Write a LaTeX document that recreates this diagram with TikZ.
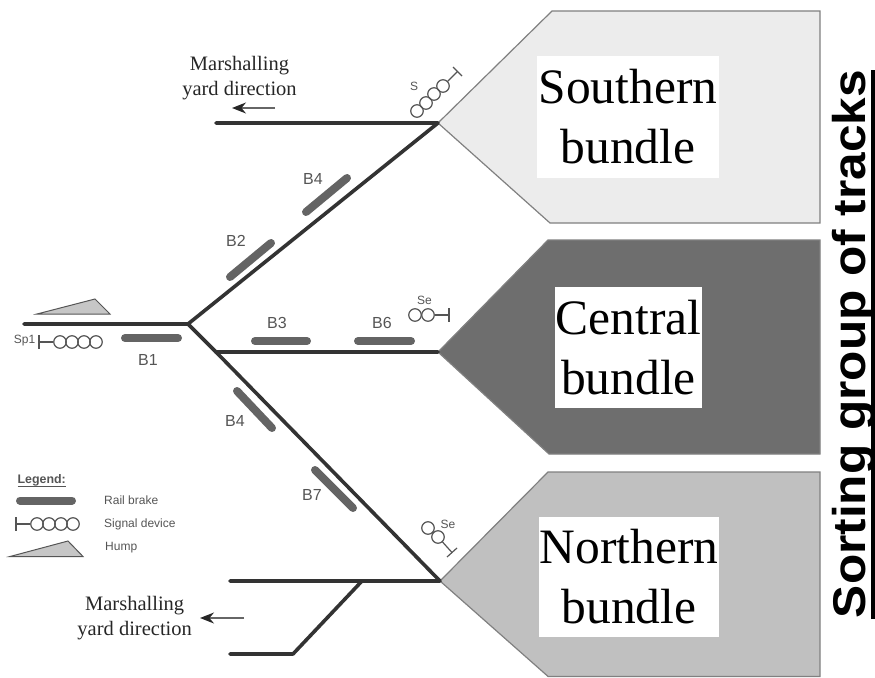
\documentclass[tikz,border=0pt]{standalone}
\usepackage{fontspec}
\setmainfont{Liberation Serif}
\newfontfamily\arialf{Liberation Sans}
\usetikzlibrary{arrows.meta}
\definecolor{edgeg}{HTML}{808080}
\definecolor{trackc}{HTML}{333333}
\definecolor{brakec}{HTML}{646464}
\definecolor{labelc}{HTML}{555555}
\tikzset{
  bundle/.style={draw=edgeg,line width=1.2pt,line join=miter},
  titlebox/.style={fill=white,inner sep=0pt,align=center,font=\fontsize{49.5}{60}\selectfont,text=black},
  track/.style={draw=trackc,line width=3.6pt,line cap=round,line join=round},
  brake/.style={draw=brakec,line width=8pt,line cap=round},
  tag/.style={font=\arialf\fontsize{16}{18}\selectfont,text=labelc,inner sep=0pt},
  smalltag/.style={font=\arialf\fontsize{12}{14}\selectfont,text=labelc,inner sep=0pt},
  lamp/.style={circle,draw=labelc,line width=1.2pt,minimum size=12.5pt,inner sep=0pt},
  sigline/.style={draw=labelc,line width=1.2pt},
  humpshape/.style={draw=labelc,fill=gray!45,line width=1pt,line join=miter},
  serifnote/.style={font=\fontsize{20.5}{24.5}\selectfont,align=center,inner sep=0pt,text=black!85},
  dirarrow/.style={draw=black!60,line width=1.5pt,-{Stealth[length=14pt,width=11pt,color=black!85]}}
}
\begin{document}
\begin{tikzpicture}[x=1pt,y=-1pt]
\useasboundingbox (0,0) rectangle (875,677);
% bundles
\filldraw[bundle,fill={rgb,255:red,236;green,236;blue,236}] (438,123) coordinate (sTip) -- (552,11) -- (820,11) -- (820,223) -- (550,223) -- cycle;
\filldraw[bundle,fill={rgb,255:red,110;green,110;blue,110}] (438,352) coordinate (cTip) -- (548,240) -- (820,240) -- (820,454) -- (549,454) -- cycle;
\filldraw[bundle,fill={rgb,255:red,192;green,192;blue,192}] (440,581) coordinate (nTip) -- (548,472) -- (820,472) -- (820,676.4) -- (548,676.4) -- cycle;
\node[titlebox,minimum width=182pt,minimum height=122pt] (southB) at (628,117) {Southern\\bundle};
\node[titlebox,minimum width=147pt,minimum height=121pt] (centralB) at (628.5,347.5) {Central\\bundle};
\node[titlebox,minimum width=180pt,minimum height=120pt] (northB) at (629,577) {Northern\\bundle};
% vertical title
\node[rotate=90,xscale=.918,yscale=.85,inner sep=0pt,anchor=base,font=\arialf\bfseries\fontsize{54}{60}\selectfont] (sideT) at (865,344) {Sorting group of tracks};
\coordinate (ulA) at (873,619);
\coordinate (ulB) at (873,70);
\draw[black,line width=3.5pt] (ulA) -- (ulB);
% tracks
\coordinate (startA) at (24,324);
\coordinate (jn) at (188,324);
\coordinate (jnLow) at (216,352);
\coordinate (yardTop) at (216,123);
\coordinate (yardLowA) at (230,581);
\coordinate (branch) at (362,581);
\coordinate (bend) at (293,654);
\coordinate (yardLowB) at (230,654);
\draw[track] (startA) -- (jn) -- (sTip) -- (yardTop);
\draw[track] (jn) -- (jnLow) -- (cTip);
\draw[track] (jnLow) -- (nTip) -- (yardLowA);
\draw[track] (branch) -- (bend) -- (yardLowB);
% brakes
\coordinate (b1a) at (125,338); \coordinate (b1b) at (178,338);
\coordinate (b4a) at (306,212); \coordinate (b4b) at (347,178);
\coordinate (b2a) at (230,277); \coordinate (b2b) at (271,243);
\coordinate (b3a) at (255,341); \coordinate (b3b) at (307,341);
\coordinate (b6a) at (358,341); \coordinate (b6b) at (411,341);
\coordinate (b5a) at (237,391); \coordinate (b5b) at (272,428);
\coordinate (b7a) at (315,470); \coordinate (b7b) at (353,508);
\foreach \p/\q in {b1a/b1b,b4a/b4b,b2a/b2b,b3a/b3b,b6a/b6b,b5a/b5b,b7a/b7b}
  \draw[brake] (\p) -- (\q);
\node[tag] (lb1) at (148,360) {B1};
\node[tag] (lb4) at (313,179) {B4};
\node[tag] (lb2) at (236,241) {B2};
\node[tag] (lb3) at (277,322.5) {B3};
\node[tag] (lb6) at (382,322.5) {B6};
\node[tag] (lb4b) at (235,421) {B4};
\node[tag] (lb7) at (312,495) {B7};
% hump
\filldraw[humpshape] (37,314) -- (95,299) -- (110,314) -- cycle;
% signal Sp1
\node[smalltag] (sp) at (24.5,341) {Sp1};
\node[lamp] (s1) at (60,342) {};
\node[lamp] (s2) at (72,342) {};
\node[lamp] (s3) at (84,342) {};
\node[lamp] (s4) at (96,342) {};
\coordinate (spT) at (39,342);
\draw[sigline] (39,335) -- (39,349);
\draw[sigline] (spT) -- (s1);
% signal S
\node[smalltag] (sS) at (414,86) {S};
\node[lamp] (u1) at (417,111) {};
\node[lamp] (u2) at (426,103) {};
\node[lamp] (u3) at (434,94) {};
\node[lamp] (u4) at (443,86) {};
\coordinate (uT) at (457.5,71.5);
\draw[sigline] (453,67) -- (462,76);
\draw[sigline] (u4) -- (uT);
% signal Se centre
\node[smalltag] (sC) at (424.5,300) {Se};
\node[lamp] (c1) at (415,315) {};
\node[lamp] (c2) at (428,315) {};
\coordinate (cT) at (449,315);
\draw[sigline] (449,308) -- (449,322);
\draw[sigline] (c2) -- (cT);
% signal Se north
\node[smalltag] (sN) at (448,524) {Se};
\node[lamp] (n1) at (428,528) {};
\node[lamp] (n2) at (438,537) {};
\coordinate (nT) at (452,552.5);
\draw[sigline] (447,557) -- (457,548);
\draw[sigline] (n2) -- (nT);
% direction notes
\node[serifnote] (mTop) at (239.5,78) {Marshalling\\yard direction};
\coordinate (aTopA) at (275,108); \coordinate (aTopB) at (232,108);
\draw[dirarrow] (aTopA) -- (aTopB);
\node[serifnote] (mLow) at (134.7,618) {Marshalling\\yard direction};
\coordinate (aLowA) at (244,618); \coordinate (aLowB) at (200,618);
\draw[dirarrow] (aLowA) -- (aLowB);
% legend
\node[font=\arialf\bfseries\fontsize{12.4}{14}\selectfont,text=labelc,inner sep=0pt] (lgT) at (41.7,480) {Legend:};
\coordinate (lgUa) at (17.5,486.5); \coordinate (lgUb) at (66,486.5);
\draw[labelc,line width=.9pt] (lgUa) -- (lgUb);
\coordinate (lgBa) at (20,500.5); \coordinate (lgBb) at (72,500.5);
\draw[brake] (lgBa) -- (lgBb);
\node[smalltag,anchor=west] (lgBt) at (104,500.5) {Rail brake};
\node[lamp] (g1) at (37,524) {};
\node[lamp] (g2) at (49,524) {};
\node[lamp] (g3) at (61,524) {};
\node[lamp] (g4) at (73,524) {};
\coordinate (gT) at (16,524);
\draw[sigline] (16,517) -- (16,531);
\draw[sigline] (gT) -- (g1);
\node[smalltag,anchor=west] (lgSt) at (104,524) {Signal device};
\filldraw[humpshape] (10,556.5) -- (68,541) -- (83,556.5) -- cycle;
\node[smalltag,anchor=west] (lgHt) at (105,548) {Hump};
\end{tikzpicture}
\end{document}
